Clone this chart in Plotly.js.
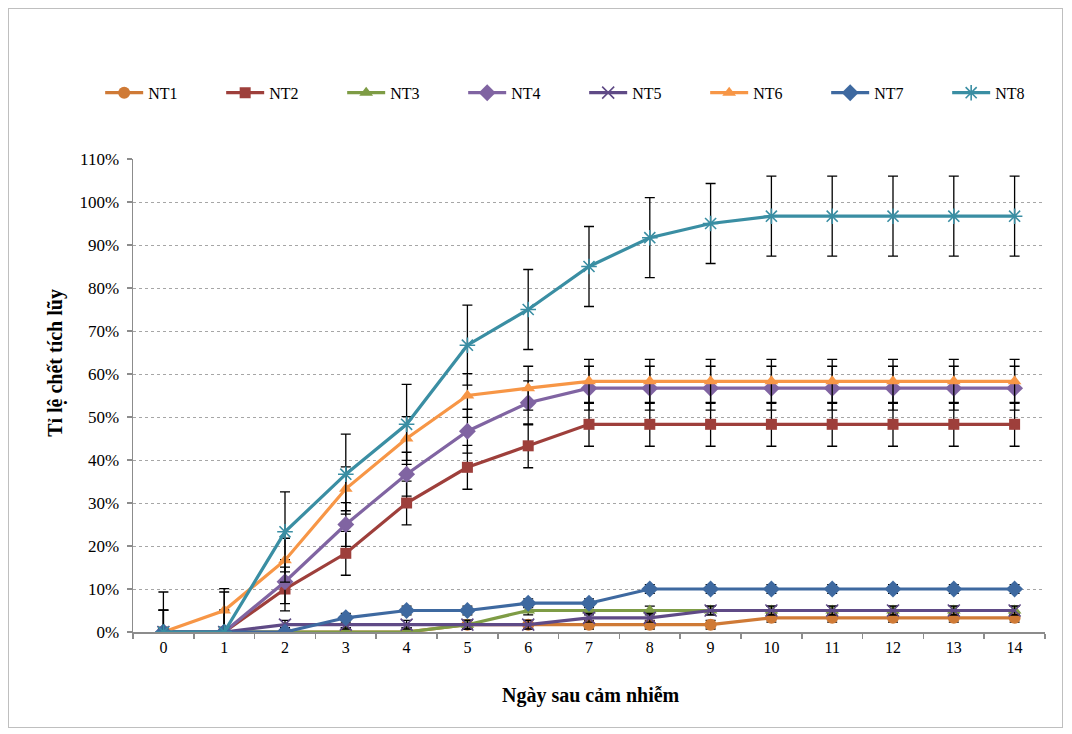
<!DOCTYPE html>
<html>
<head>
<meta charset="utf-8">
<script src="https://cdn.plot.ly/plotly-3.0.1.min.js"></script>
<style>
  html, body { margin: 0; padding: 0; background: #ffffff; }
  #frame { position: absolute; left: 8px; top: 8px; width: 1055px; height: 720px; border: 1px solid #bfbfbf; box-sizing: border-box; }
  #chart { position: absolute; left: 0; top: 0; width: 1072px; height: 734px; }
</style>
</head>
<body>
<div id="frame"></div>
<div id="chart"></div>
<script>
// Days after infection (categories)
const days = ['0','1','2','3','4','5','6','7','8','9','10','11','12','13','14'];

// Cumulative mortality (%) per treatment
const NT1 = [0, 0, 0, 0, 0, 1.7, 1.7, 1.7, 1.7, 1.7, 3.3, 3.3, 3.3, 3.3, 3.3];
const NT2 = [0, 0, 10, 18.3, 30, 38.3, 43.3, 48.3, 48.3, 48.3, 48.3, 48.3, 48.3, 48.3, 48.3];
const NT3 = [0, 0, 0, 0, 0, 1.7, 5, 5, 5, 5, 5, 5, 5, 5, 5];
const NT4 = [0, 0, 11.7, 25, 36.7, 46.7, 53.3, 56.7, 56.7, 56.7, 56.7, 56.7, 56.7, 56.7, 56.7];
const NT5 = [0, 0, 1.7, 1.7, 1.7, 1.7, 1.7, 3.3, 3.3, 5, 5, 5, 5, 5, 5];
const NT6 = [0, 5, 16.7, 33.3, 45, 55, 56.7, 58.3, 58.3, 58.3, 58.3, 58.3, 58.3, 58.3, 58.3];
const NT7 = [0, 0, 0, 3.3, 5, 5, 6.7, 6.7, 10, 10, 10, 10, 10, 10, 10];
const NT8 = [0, 0, 23.3, 36.7, 48.3, 66.7, 75, 85, 91.7, 95, 96.7, 96.7, 96.7, 96.7, 96.7];

// Error bar half-lengths (%) per treatment
const errNT1 = 1, errNT2 = 5.1, errNT3 = 1, errNT4 = 5.1;
const errNT5 = 1, errNT6 = 5.1, errNT7 = 1, errNT8 = 9.3;

const seriesNames = ['NT1','NT2','NT3','NT4','NT5','NT6','NT7','NT8'];
const seriesValues = [NT1, NT2, NT3, NT4, NT5, NT6, NT7, NT8];
const seriesErr = [errNT1, errNT2, errNT3, errNT4, errNT5, errNT6, errNT7, errNT8];
const colors = ['#CF7A36', '#9E3F3B', '#7E9C45', '#8064A2', '#5F4A86', '#F79646', '#3E69A0', '#3A8EA3'];
const symbols = ['circle', 'square', 'triangle-up', 'diamond', 'x-thin-open', 'triangle-up', 'diamond', 'asterisk-open'];
const sizes = [12, 11, 12, 13, 12, 12, 13, 13];

const serif = "'Liberation Serif', 'Times New Roman', serif";

const traces = seriesNames.map((name, i) => ({
  type: 'scatter',
  mode: 'lines+markers',
  name: name,
  x: days,
  y: seriesValues[i],
  line: { color: colors[i], width: 3.2 },
  marker: { symbol: symbols[i], size: sizes[i], color: colors[i], line: { color: colors[i], width: (symbols[i].indexOf('open') >= 0 ? 1.6 : 0) } },
  error_y: { type: 'constant', value: seriesErr[i], visible: true, color: '#000000', thickness: 1.3, width: 5 },
  cliponaxis: true
}));

const layout = {
  width: 1072,
  height: 734,
  paper_bgcolor: 'rgba(0,0,0,0)',
  plot_bgcolor: '#ffffff',
  margin: { l: 133, r: 27, t: 159, b: 102, pad: 0 },
  font: { family: serif, size: 16, color: '#000000' },
  showlegend: true,
  legend: {
    orientation: 'h',
    x: -0.036, xanchor: 'left',
    y: 1.14, yanchor: 'middle',
    font: { family: serif, size: 16, color: '#000000' },
    entrywidth: 68, entrywidthmode: 'pixels',
    itemwidth: 38,
    bgcolor: 'rgba(0,0,0,0)'
  },
  xaxis: {
    type: 'category',
    range: [-0.5, 14.5],
    showline: true, linecolor: '#8c8c8c', linewidth: 1.5,
    ticks: 'outside', ticklen: 5, tickcolor: '#8c8c8c', tickwidth: 1.5,
    tickson: 'boundaries',
    showgrid: false, zeroline: false,
    tickfont: { family: serif, size: 16 }
  },
  yaxis: {
    range: [0, 110],
    tick0: 0, dtick: 10,
    ticksuffix: '%',
    showline: true, linecolor: '#8c8c8c', linewidth: 1.5,
    ticks: 'outside', ticklen: 5, tickcolor: '#8c8c8c', tickwidth: 1.5,
    ticklabelstandoff: 4,
    showgrid: true, gridcolor: '#a6a6a6', griddash: 'dot', gridwidth: 1,
    zeroline: false,
    tickfont: { family: serif, size: 17 }
  },
  annotations: [
    { text: '<b>Ngày sau cảm nhiễm</b>', xref: 'paper', yref: 'paper', x: 0.502, y: -0.135, xanchor: 'center', yanchor: 'middle', showarrow: false, font: { family: serif, size: 20 } },
    { text: '<b>Tỉ lệ chết tích lũy</b>', xref: 'paper', yref: 'paper', x: -0.085, y: 0.57, xanchor: 'center', yanchor: 'middle', textangle: -90, showarrow: false, font: { family: serif, size: 20 } }
  ]
};

Plotly.newPlot('chart', traces, layout, { displayModeBar: false, staticPlot: true });
</script>
</body>
</html>
